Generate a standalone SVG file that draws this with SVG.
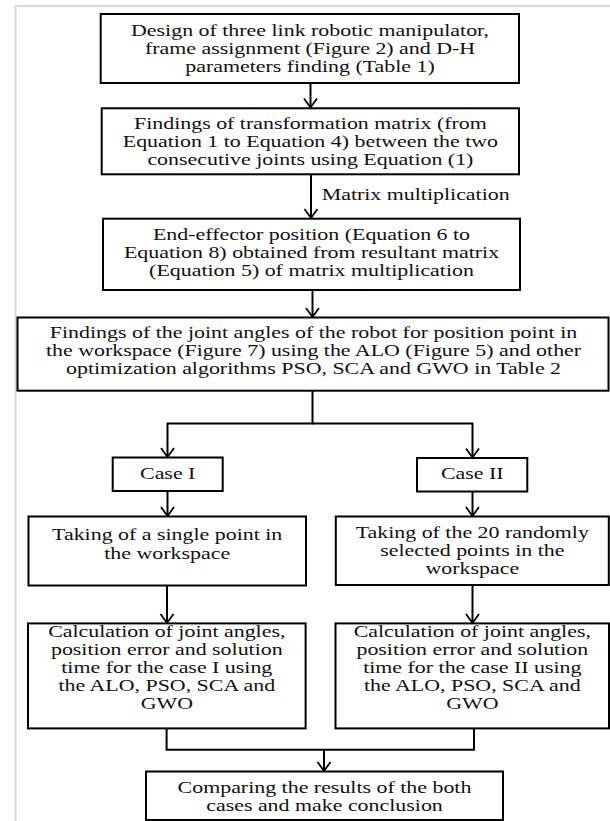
<svg xmlns="http://www.w3.org/2000/svg" width="610" height="821" viewBox="0 0 610 821">
<style>
.box{fill:#fff;stroke:#000;stroke-width:2}
.t{font-family:"Liberation Serif","Times New Roman",serif;font-size:16px;fill:#111;text-anchor:middle}
.lbl{font-family:"Liberation Serif","Times New Roman",serif;font-size:16px;fill:#111}
.c{fill:none;stroke:#000;stroke-width:2}
.frame{fill:none;stroke:#d9d9d9;stroke-width:2}
</style>
<defs>
<marker id="arr" markerUnits="userSpaceOnUse" viewBox="-10 -10 20 20" markerWidth="20" markerHeight="20" refX="0" refY="0" orient="auto" overflow="visible">
<path d="M-9,-6.5 L0,0 L-9,6.5" fill="none" stroke="#000" stroke-width="1.8"/>
</marker>
</defs>
<rect width="610" height="821" fill="#fff"/>
<path class="frame" d="M15.5,821 V6 H610"/>
<g id="connectors">
<path class="c" d="M310.5,83 V107.5" marker-end="url(#arr)"/>
<path class="c" d="M311,174.3 V218" marker-end="url(#arr)"/>
<path class="c" d="M312.5,290 V317" marker-end="url(#arr)"/>
<path class="c" d="M312.5,390.7 V423.5 H167.5 V457" marker-end="url(#arr)"/>
<path class="c" d="M312.5,423.5 H472.5 V457.5" marker-end="url(#arr)"/>
<path class="c" d="M167.5,491 V516" marker-end="url(#arr)"/>
<path class="c" d="M472.5,491.5 V516" marker-end="url(#arr)"/>
<path class="c" d="M167,585.5 V623" marker-end="url(#arr)"/>
<path class="c" d="M472.5,585 V623" marker-end="url(#arr)"/>
<path class="c" d="M166.6,728.4 V749.7 H474 V728.4"/>
<path class="c" d="M324,749.7 V771" marker-end="url(#arr)"/>
<text class="lbl" transform="translate(321.7,200) scale(1.37,1)">Matrix multiplication</text>
</g>
<g id="n1">
<rect class="box" x="100.7" y="14" width="418.3" height="69"/>
<text class="t" transform="translate(310,35.5) scale(1.37,1)"><tspan x="0">Design of three link robotic manipulator,</tspan><tspan x="0" dy="18.3">frame assignment (Figure 2) and D-H</tspan><tspan x="0" dy="18.3">parameters finding (Table 1)</tspan></text>
</g>
<g id="n2">
<rect class="box" x="101.7" y="108.3" width="417.3" height="66"/>
<text class="t" transform="translate(310.4,128.5) scale(1.37,1)"><tspan x="0">Findings of transformation matrix (from</tspan><tspan x="0" dy="18.3">Equation 1 to Equation 4) between the two</tspan><tspan x="0" dy="18.3">consecutive joints using Equation (1)</tspan></text>
</g>
<g id="n3">
<rect class="box" x="103" y="218.7" width="417" height="71.3"/>
<text class="t" transform="translate(311.5,239.5) scale(1.37,1)"><tspan x="0">End-effector position (Equation 6 to</tspan><tspan x="0" dy="18.3">Equation 8) obtained from resultant matrix</tspan><tspan x="0" dy="18.3">(Equation 5) of matrix multiplication</tspan></text>
</g>
<g id="n4">
<rect class="box" x="17.5" y="317.5" width="591" height="73.2"/>
<text class="t" transform="translate(313.5,337.5) scale(1.37,1)"><tspan x="0">Findings of the joint angles of the robot for position point in</tspan><tspan x="0" dy="18.3">the workspace (Figure 7) using the ALO (Figure 5) and other</tspan><tspan x="0" dy="18.3">optimization algorithms PSO, SCA and GWO in Table 2</tspan></text>
</g>
<g id="case1">
<rect class="box" x="112.7" y="457.5" width="110" height="33.5"/>
<text class="t" transform="translate(167.7,479) scale(1.37,1)">Case I</text>
</g>
<g id="case2">
<rect class="box" x="417" y="458" width="110.3" height="33.5"/>
<text class="t" transform="translate(472.2,479.3) scale(1.37,1)">Case II</text>
</g>
<g id="take1">
<rect class="box" x="28.5" y="516.5" width="277.5" height="69"/>
<text class="t" transform="translate(167.2,540.3) scale(1.37,1)"><tspan x="0">Taking of a single point in</tspan><tspan x="0" dy="18.3">the workspace</tspan></text>
</g>
<g id="take2">
<rect class="box" x="335.8" y="516.5" width="273" height="68.5"/>
<text class="t" transform="translate(472.3,537.8) scale(1.37,1)"><tspan x="0">Taking of the 20 randomly</tspan><tspan x="0" dy="18.3">selected points in the</tspan><tspan x="0" dy="18.3">workspace</tspan></text>
</g>
<g id="calc1">
<rect class="box" x="28" y="623.4" width="277.6" height="105"/>
<text class="t" transform="translate(166.8,637.3) scale(1.37,1)"><tspan x="0">Calculation of joint angles,</tspan><tspan x="0" dy="18">position error and solution</tspan><tspan x="0" dy="18">time for the case I using</tspan><tspan x="0" dy="18">the ALO, PSO, SCA and</tspan><tspan x="0" dy="18">GWO</tspan></text>
</g>
<g id="calc2">
<rect class="box" x="335.5" y="623.4" width="273.5" height="105"/>
<text class="t" transform="translate(472.3,637.3) scale(1.37,1)"><tspan x="0">Calculation of joint angles,</tspan><tspan x="0" dy="18">position error and solution</tspan><tspan x="0" dy="18">time for the case II using</tspan><tspan x="0" dy="18">the ALO, PSO, SCA and</tspan><tspan x="0" dy="18">GWO</tspan></text>
</g>
<g id="compare">
<rect class="box" x="146" y="771.5" width="357" height="48.5"/>
<text class="t" transform="translate(324.5,792.6) scale(1.37,1)"><tspan x="0">Comparing the results of the both</tspan><tspan x="0" dy="18">cases and make conclusion</tspan></text>
</g>
</svg>
